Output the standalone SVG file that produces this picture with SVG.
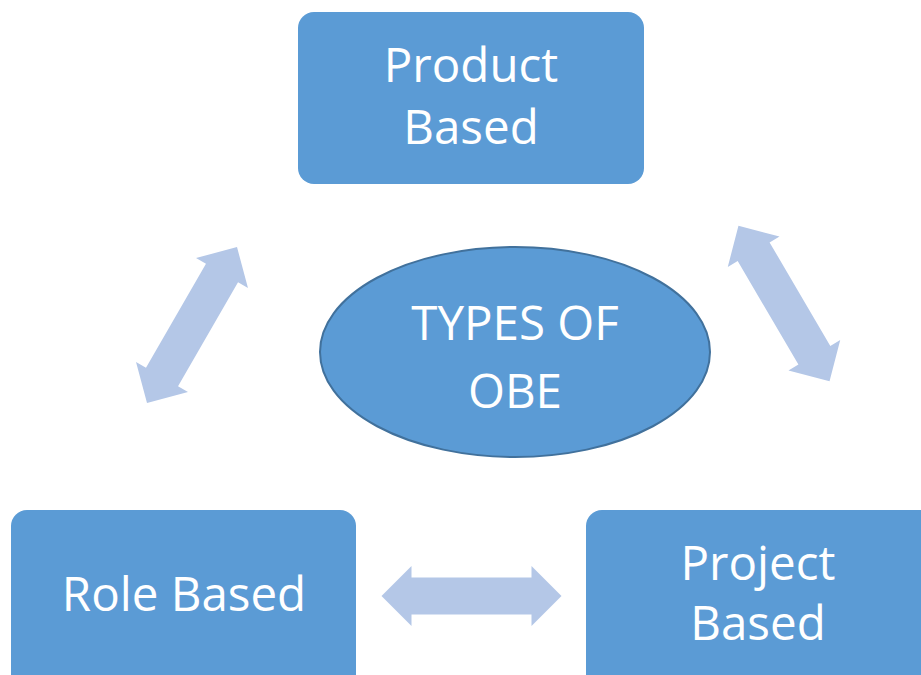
<svg xmlns="http://www.w3.org/2000/svg" width="921" height="675" viewBox="0 0 921 675">
<style>
.box{fill:#5B9BD5;}
.t{fill:#FFFFFF;font-family:"Open Sans","Noto Sans","Liberation Sans",sans-serif;font-size:47.5px;text-anchor:middle;}
.arr{fill:#B4C7E7;}
</style>
<defs>
<path id="dbl" d="M -90,0 L -60,-30 L -60,-18.5 L 60,-18.5 L 60,-30 L 90,0 L 60,30 L 60,18.5 L -60,18.5 L -60,30 Z"/>
</defs>
<rect width="921" height="675" fill="#FFFFFF"/>
<g id="connectors" class="arr">
<use href="#dbl" transform="translate(192,325) rotate(-60)"/>
<use href="#dbl" transform="translate(784,303.5) rotate(59.6)"/>
<use href="#dbl" transform="translate(471.5,596)"/>
</g>
<g id="product">
<rect class="box" x="298" y="12" width="346" height="172" rx="16"/>
<text class="t" x="471" y="82">Product</text>
<text class="t" x="471" y="144">Based</text>
</g>
<g id="types">
<ellipse cx="515" cy="352" rx="195" ry="105" fill="#5B9BD5" stroke="#41719C" stroke-width="2"/>
<text class="t" x="515" y="340">TYPES OF</text>
<text class="t" x="515" y="408">OBE</text>
</g>
<g id="role">
<rect class="box" x="11" y="510" width="345" height="185" rx="16"/>
<text class="t" x="184" y="611">Role Based</text>
</g>
<g id="project">
<rect class="box" x="586" y="510" width="360" height="185" rx="16"/>
<text class="t" x="758" y="580">Project</text>
<text class="t" x="758" y="640">Based</text>
</g>
</svg>
